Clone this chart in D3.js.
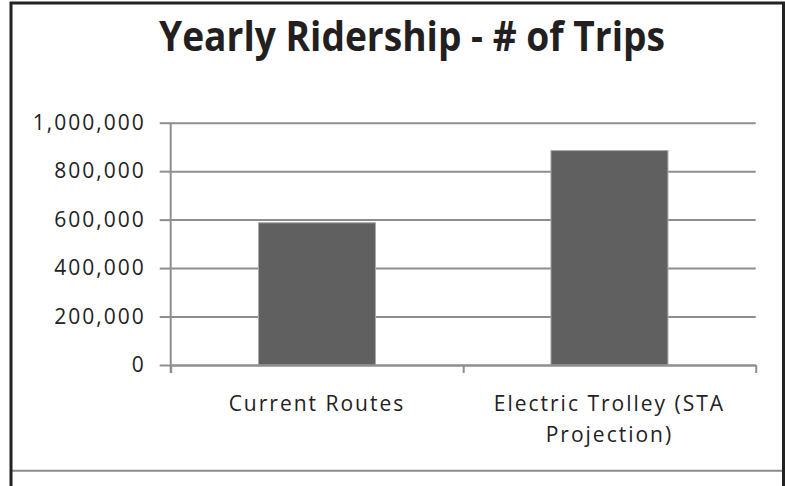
<!DOCTYPE html>
<html>
<head>
<meta charset="utf-8">
<script src="https://cdn.jsdelivr.net/npm/d3@7"></script>
<style>
  body { margin: 0; background: #fff; }
  svg { display: block; }
</style>
</head>
<body>
<div id="viz"></div>
<script>
// chart data
const categories = ["Current Routes", "Electric Trolley (STA Projection)"];
const labelLines = [["Current Routes"], ["Electric Trolley (STA", "Projection)"]];
const trips = [587000, 885000];
const yTicks = [0, 200000, 400000, 600000, 800000, 1000000];
const titleText = "Yearly Ridership - # of Trips";

const width = 785;
const height = 486;

const plotLeft = 170.7, plotRight = 755.7;
const plotTop = 122.7, plotBottom = 365;

const svg = d3.select("#viz").append("svg")
    .attr("width", width)
    .attr("height", height)

svg.append("rect")
    .attr("width", width)
    .attr("height", height)
    .attr("fill", "#fff")

const x = d3.scaleBand()
    .domain(categories)
    .range([plotLeft, plotRight])
    .paddingInner(0.6)
    .paddingOuter(0.3)

const y = d3.scaleLinear()
    .domain([0, 1000000])
    .range([plotBottom, plotTop])

// gridlines
const grid = svg.append("g")
    .attr("transform", `translate(${plotLeft},0)`)
    .call(d3.axisLeft(y).tickValues(yTicks).tickSize(-(plotRight - plotLeft)).tickFormat(""))
grid.select(".domain").remove()
grid.selectAll("line")
    .attr("stroke", "#8e8e8e")
    .attr("stroke-width", 2)

// bars
svg.selectAll(".bar")
    .data(trips)
    .enter()
    .append("rect")
    .attr("class", "bar")
    .attr("x", (d, i) => x(categories[i]))
    .attr("y", d => y(d))
    .attr("width", x.bandwidth())
    .attr("height", d => y(0) - y(d))
    .attr("fill", "#606060")
    .attr("stroke", "#a8a8a8")
    .attr("stroke-width", 1)

// y axis
const yAxis = svg.append("g")
    .attr("transform", `translate(${plotLeft},0)`)
    .call(d3.axisLeft(y).tickValues(yTicks).tickSize(11).tickSizeOuter(0).tickPadding(14).tickFormat(d3.format(",")))
yAxis.select(".domain")
    .attr("stroke", "#8e8e8e")
    .attr("stroke-width", 2)
    .attr("d", `M0,${plotTop}V${plotBottom + 8}`)
yAxis.selectAll("line")
    .attr("stroke", "#8e8e8e")
    .attr("stroke-width", 2)
yAxis.selectAll("text")
    .attr("fill", "#222")
    .style("font-family", "'Open Sans', sans-serif")
    .style("font-size", "21px")
    .style("letter-spacing", "2px")

// x axis line and boundary ticks
const boundaries = d3.range(categories.length + 1).map(i => plotLeft + i * x.step())
const xAxisScale = d3.scaleLinear().domain([plotLeft, plotRight]).range([plotLeft, plotRight])
const xAxis = svg.append("g")
    .attr("transform", `translate(0,${plotBottom})`)
    .call(d3.axisBottom(xAxisScale).tickValues(boundaries).tickSize(8).tickSizeOuter(0).tickFormat(""))
xAxis.select(".domain")
    .attr("stroke", "#8e8e8e")
    .attr("stroke-width", 2)
xAxis.selectAll("line")
    .attr("stroke", "#8e8e8e")
    .attr("stroke-width", 2)

// category labels
const catLabels = svg.selectAll(".cat")
    .data(categories)
    .enter()
    .append("text")
    .attr("class", "cat")
    .attr("x", d => x(d) + x.bandwidth() / 2)
    .attr("y", 410.7)
    .attr("text-anchor", "middle")
    .attr("fill", "#222")
    .style("font-family", "'Open Sans', sans-serif")
    .style("font-size", "21px")
    .style("letter-spacing", "2px")
catLabels.each(function (d, i) {
    d3.select(this).selectAll("tspan")
        .data(labelLines[i])
        .enter()
        .append("tspan")
        .attr("x", x(d) + x.bandwidth() / 2)
        .attr("dy", (t, j) => j === 0 ? 0 : 31)
        .text(t => t)
})

// title
svg.append("text")
    .attr("x", 412)
    .attr("y", 50.7)
    .attr("text-anchor", "middle")
    .attr("fill", "#231f20")
    .attr("textLength", 506)
    .attr("lengthAdjust", "spacingAndGlyphs")
    .style("font-family", "'Open Sans', sans-serif")
    .style("font-weight", "bold")
    .style("font-size", "42px")
    .text(titleText)

// frame
svg.append("line")
    .attr("x1", 11).attr("x2", 783)
    .attr("y1", 470.7).attr("y2", 470.7)
    .attr("stroke", "#8a8a8a")
    .attr("stroke-width", 2)
svg.append("path")
    .attr("d", "M11,486V3H783.5V486")
    .attr("fill", "none")
    .attr("stroke", "#222")
    .attr("stroke-width", 3)
</script>
</body>
</html>
